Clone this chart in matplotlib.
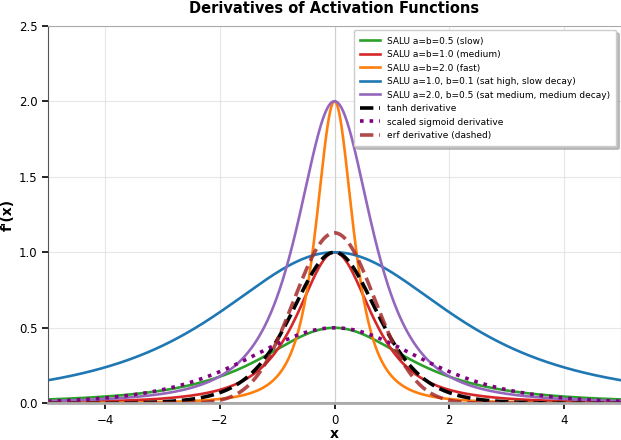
import numpy as np
import matplotlib.pyplot as plt

# SALU parameters
salu_a = [0.5, 1.0, 2.0, 1.0, 2.0]
salu_b = [0.5, 1.0, 2.0, 0.1, 0.5]
salu_labels = ['SALU a=b=0.5 (slow)', 'SALU a=b=1.0 (medium)', 'SALU a=b=2.0 (fast)',
               'SALU a=1.0, b=0.1 (sat high, slow decay)',
               'SALU a=2.0, b=0.5 (sat medium, medium decay)']
salu_colors = ['#2ca02c', '#d62728', '#ff7f0e', '#1f77b4', '#9467bd']

x_ticks = [-4, -2, 0, 2, 4]
y_ticks = [0.0, 0.5, 1.0, 1.5, 2.0, 2.5]


def salu_deriv(x, a, b):
    # d/dx [a x / sqrt(1 + a b x^2)]
    return a / (1 + a * b * x ** 2) ** 1.5


def sigmoid(x):
    return 1 / (1 + np.exp(-x))


x = np.linspace(-5, 5, 1000)

fig = plt.figure(figsize=(6.21, 4.4), dpi=100)
ax = fig.add_axes([0.0773, 0.0834, 0.9227, 0.8582])

for a, b, lab, c in zip(salu_a, salu_b, salu_labels, salu_colors):
    ax.plot(x, salu_deriv(x, a, b), color=c, lw=1.9, label=lab)

ax.plot(x, 1 - np.tanh(x) ** 2, 'k--', lw=2.6, label='tanh derivative')
ax.plot(x, 2 * sigmoid(x) * (1 - sigmoid(x)), ':', color='purple', lw=2.6,
        label='scaled sigmoid derivative')
ax.plot(x, 2 / np.sqrt(np.pi) * np.exp(-x ** 2), '--', color='brown', lw=2.6,
        alpha=0.85, label='erf derivative (dashed)')

ax.axhline(0, color='gray', lw=1.5, alpha=0.6, zorder=0)
ax.axvline(0, color='gray', lw=0.8, alpha=0.6, zorder=0)

ax.set_xlim(-5, 5)
ax.set_ylim(0, 2.5)
ax.set_xticks(x_ticks)
ax.set_yticks(y_ticks)
ax.grid(True, color='#dddddd', lw=0.8, alpha=0.7)
ax.tick_params(direction='out', length=4, width=1.2, labelsize=8.5)
for s in ['top', 'right', 'bottom']:
    ax.spines[s].set_color('#aaaaaa')
ax.spines['left'].set_color('#555555')
ax.spines['bottom'].set_linewidth(2)

ax.set_title('Derivatives of Activation Functions', fontsize=10.5, fontweight='bold', pad=9)
ax.set_xlabel('x', fontsize=10, fontweight='bold', labelpad=0)
ax.set_ylabel("f'(x)", fontsize=10, fontweight='bold', labelpad=3)
ax.legend(loc='upper right', fontsize=6.5, shadow={'color': '#999999', 'alpha': 0.6},
          framealpha=1, borderpad=0.7, handlelength=2.2)

fig.savefig('out.png', dpi=100)
